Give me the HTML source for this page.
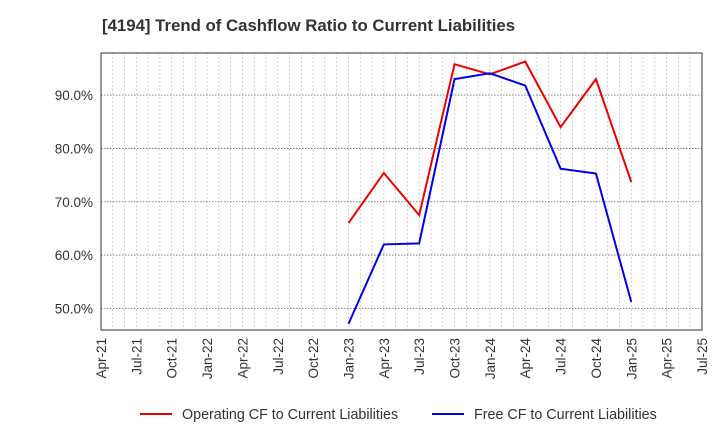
<!DOCTYPE html>
<html><head><meta charset="utf-8"><style>
body{margin:0;background:#fff;font-family:"Liberation Sans",sans-serif;}
</style></head><body>
<svg id="chart" width="720" height="440" xmlns="http://www.w3.org/2000/svg">
<text x="102" y="31" font-size="16.8" font-weight="bold" fill="#333">[4194]  Trend of Cashflow Ratio to Current Liabilities</text>
<g id="grid"></g><g id="axes"></g><g id="series"></g>
<g>
<line x1="140" y1="414" x2="172" y2="414" stroke="#e00" stroke-width="2"/>
<text x="182" y="419" font-size="14.3" fill="#333">Operating CF to Current Liabilities</text>
<line x1="432" y1="414" x2="464" y2="414" stroke="#00e" stroke-width="2"/>
<text x="474" y="419" font-size="14.3" fill="#333">Free CF to Current Liabilities</text>
</g>
</svg>
<script>
const tickLabels=["Apr-21","Jul-21","Oct-21","Jan-22","Apr-22","Jul-22","Oct-22","Jan-23","Apr-23","Jul-23","Oct-23","Jan-24","Apr-24","Jul-24","Oct-24","Jan-25","Apr-25","Jul-25"];
const yTicks=[50,60,70,80,90];
const dataQuarterIdx=[7,8,9,10,11,12,13,14,15];
const operatingCF=[66.0,75.4,67.5,95.8,93.9,96.3,84.0,93.0,73.7];
const freeCF=[47.1,62.0,62.2,93.0,94.1,91.8,76.2,75.3,51.2];
const L=101,R=702,T=53,B=330,yMin=45.95,yMax=97.9,months=51;
const xm=m=>L+(R-L)*m/months;
const xq=q=>xm(q*3);
const y=v=>B-(v-yMin)/(yMax-yMin)*(B-T);
const NS="http://www.w3.org/2000/svg";
function mk(tag,attrs,parent){const e=document.createElementNS(NS,tag);for(const k in attrs)e.setAttribute(k,attrs[k]);document.getElementById(parent).appendChild(e);return e;}
for(let m=1;m<months;m++){
const l=mk("line",{x1:xm(m),x2:xm(m),y1:T,y2:B,stroke:"#aaa","stroke-dasharray":"1.5,2.5","stroke-width":0.7},"grid");


}
yTicks.forEach(v=>{
const l=mk("line",{x1:L,x2:R,y1:y(v),y2:y(v),stroke:"#666","stroke-dasharray":"1.5,1.5","stroke-width":0.8},"grid");


const t=mk("text",{x:L-8,y:y(v)+5,"text-anchor":"end","font-size":"13.5",fill:"#333"},"axes");
t.textContent=v.toFixed(1)+"%";


});
const f=mk("rect",{x:L,y:T,width:R-L,height:B-T,fill:"none",stroke:"#333","stroke-width":1},"axes");


tickLabels.forEach((s,i)=>{
const x=xq(i);
const t=mk("text",{x:x+5,y:B+8,"text-anchor":"end","font-size":"13.5",fill:"#333",transform:`rotate(-90 ${x+5} ${B+8})`},"axes");
t.textContent=s;


});
function line(vals,color,name){
const pts=vals.map((v,i)=>xq(dataQuarterIdx[i])+","+y(v)).join(" ");
const p=mk("polyline",{points:pts,fill:"none",stroke:color,"stroke-width":2},"series");


}
line(operatingCF,"#e00","operating-cf-line");
line(freeCF,"#00e","free-cf-line");
</script>
</body></html>
